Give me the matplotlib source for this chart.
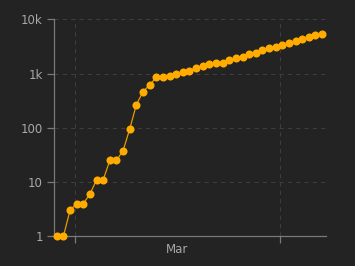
import numpy as np
import pandas as pd
import matplotlib
matplotlib.use('Agg')
import matplotlib.pyplot as plt
import matplotlib.dates as mdates
from matplotlib.ticker import FixedLocator, FixedFormatter, NullFormatter

# daily cumulative values (log scale)
dates = pd.date_range('2020-02-27 07:00', periods=41, freq='D')
values = [1, 1, 3, 4, 4, 6, 11, 11, 25, 25, 38, 95, 267, 463, 615, 851,
          875, 912, 969, 1055, 1129, 1283, 1396, 1481, 1585, 1585, 1778, 1905,
          2040, 2264, 2425, 2680, 2920, 3125, 3403, 3705, 4030, 4335, 4720,
          5070, 5420]
y_ticks = [1, 10, 100, 1000, 10000]
y_labels = ['1', '10', '100', '1k', '10k']
month_label = 'Mar'

BG = '#232323'
TXT = '#a8a8a8'
GRID = '#3e3e3e'
ORANGE = '#ffab00'

fig = plt.figure(figsize=(3.55, 2.66), dpi=100, facecolor=BG)
ax = fig.add_axes([0.1521, 0.1117, 0.9175 - 0.1521, 0.9274 - 0.1117])
ax.set_facecolor(BG)

ax.plot(dates, values, color='#e89a00', lw=0.9, zorder=2, clip_on=False)
ax.plot(dates, values, ls='none', marker='o', ms=5.8, color=ORANGE,
        markeredgewidth=0, zorder=3, clip_on=False)

ax.set_yscale('log')
ax.set_ylim(1, 10000)
ax.yaxis.set_major_locator(FixedLocator(y_ticks))
ax.yaxis.set_major_formatter(FixedFormatter(y_labels))
ax.yaxis.set_minor_locator(FixedLocator([]))

x0 = dates[0] - pd.Timedelta(hours=10)
x1 = dates[-1] + pd.Timedelta(hours=13)
ax.set_xlim(x0, x1)
ax.xaxis.set_major_locator(mdates.MonthLocator())
ax.xaxis.set_major_formatter(NullFormatter())
mid = pd.Timestamp('2020-03-16 12:00')
ax.xaxis.set_minor_locator(FixedLocator([mdates.date2num(mid)]))
ax.xaxis.set_minor_formatter(FixedFormatter([month_label]))

ax.grid(True, which='major', color=GRID, ls=(0, (4, 4)), lw=0.75)
ax.set_axisbelow(True)
for s in ['top', 'right']:
    ax.spines[s].set_visible(False)
for s in ['left', 'bottom']:
    ax.spines[s].set_color('#7a7a7a')
    ax.spines[s].set_linewidth(0.9)
    ax.spines[s].set_zorder(1)

ax.tick_params(axis='y', which='major', colors='#7a7a7a', labelcolor=TXT,
               labelsize=8.5, length=5, width=0.9, pad=3)
ax.tick_params(axis='x', which='major', colors='#7a7a7a', length=5, width=0.9)
ax.tick_params(axis='x', which='minor', length=0, labelcolor=TXT,
               labelsize=8.5, pad=5)

fig.savefig('out.png', dpi=100, facecolor=BG)
